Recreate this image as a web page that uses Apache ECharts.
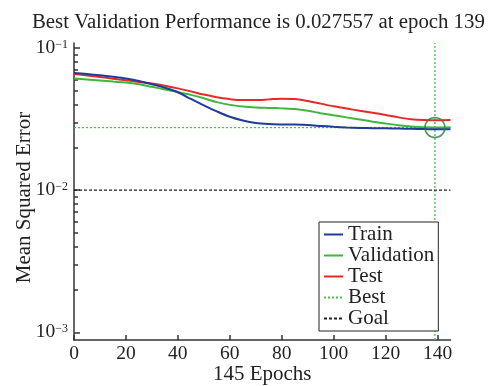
<!DOCTYPE html>
<html>
<head>
<meta charset="utf-8">
<script src="https://cdn.jsdelivr.net/npm/echarts@6/dist/echarts.min.js"></script>
<style>
  html, body { margin: 0; padding: 0; background: #fff; }
  #chart { width: 494px; height: 386px; }
</style>
</head>
<body>
<div id="chart"></div>
<script>
// Training record of the network (mean squared error per epoch)
const epochs = [0, 5, 10, 15, 20, 25, 30, 35, 40, 45, 50, 55, 60, 65, 70, 75, 80, 85, 90, 95, 100, 105, 110, 115, 120, 125, 130, 135, 139, 145];
const trainErr = [0.0667, 0.0655, 0.0642, 0.0627, 0.0610, 0.0585, 0.0556, 0.0525, 0.0488, 0.0438, 0.0395, 0.0358, 0.0328, 0.0309, 0.0297, 0.0292, 0.0290, 0.0289, 0.0287, 0.0283, 0.0279, 0.0276, 0.0274, 0.0273, 0.0272, 0.0271, 0.0270, 0.0269, 0.0268, 0.0268];
const validationErr = [0.0610, 0.0600, 0.0590, 0.0580, 0.0571, 0.0555, 0.0533, 0.0511, 0.0490, 0.0468, 0.0443, 0.0416, 0.0398, 0.0388, 0.0382, 0.0379, 0.0376, 0.0372, 0.0362, 0.0348, 0.0336, 0.0325, 0.0314, 0.0303, 0.0294, 0.0286, 0.0280, 0.0277, 0.027557, 0.0277];
const testErr = [0.0657, 0.0640, 0.0625, 0.0608, 0.0593, 0.0577, 0.0562, 0.0543, 0.0520, 0.0495, 0.0470, 0.0450, 0.0437, 0.0430, 0.0430, 0.0435, 0.0440, 0.0438, 0.0424, 0.0406, 0.0389, 0.0375, 0.0362, 0.0350, 0.0338, 0.0325, 0.0315, 0.0311, 0.0310, 0.0311];

const bestEpoch = 139;
const bestPerf = 0.027557;
const goalErr = 0.01;
const totalEpochs = 145;

const xTicks = [0, 20, 40, 60, 80, 100, 120, 140];
const yDecades = [0.001, 0.01, 0.1];
const yMinorTicks = [0.002, 0.003, 0.004, 0.005, 0.006, 0.007, 0.008, 0.009,
                     0.02, 0.03, 0.04, 0.05, 0.06, 0.07, 0.08, 0.09];
// full vertical range of the axes box (slightly beyond the decades)
const yLow = 0.000883;
const yHigh = 0.1084;

const FONT = 'Liberation Serif';
const INK = '#222';
const pair = (xs, ys) => xs.map((x, i) => [x, ys[i]]);

const chart = echarts.init(document.getElementById('chart'), null, { renderer: 'canvas' });

const lineSeries = (name, ys, color, z) => ({
  name, type: 'line', data: pair(epochs, ys),
  showSymbol: false, symbol: 'none', smooth: 0.3,
  lineStyle: { color, width: 2 }, itemStyle: { color }, z
});

chart.setOption({
  animation: false,
  backgroundColor: '#fff',
  title: {
    text: 'Best Validation Performance is ' + bestPerf + ' at epoch ' + bestEpoch,
    left: 32,
    top: 12,
    padding: 0,
    textStyle: { fontFamily: FONT, fontSize: 20.8, fontWeight: 'normal', color: INK }
  },
  legend: {
    orient: 'vertical',
    left: 319,
    top: 222,
    padding: [2, 4, 2, 4],
    itemWidth: 19,
    itemHeight: 12,
    itemGap: 0,
    backgroundColor: '#fff',
    borderColor: INK,
    borderWidth: 1,
    borderRadius: 0,
    itemStyle: { opacity: 0, borderWidth: 0 },
    textStyle: { fontFamily: FONT, fontSize: 21, color: INK, lineHeight: 19.2 },
    data: ['Train', 'Validation', 'Test', 'Best', 'Goal']
  },
  grid: { left: 74, right: 43.5, top: 43, bottom: 46, outerBoundsMode: 'none', containLabel: false },
  xAxis: {
    type: 'value', min: 0, max: totalEpochs,
    name: totalEpochs + ' Epochs', nameLocation: 'middle', nameGap: 24, nameMoveOverlap: false,
    nameTextStyle: { fontFamily: FONT, fontSize: 21, color: INK },
    axisLine: { show: true, lineStyle: { color: '#333', width: 1.5 } },
    axisTick: { show: true, inside: true, length: 5, customValues: xTicks, lineStyle: { color: '#333', width: 1.5 } },
    axisLabel: { show: true, customValues: xTicks, margin: 4, fontFamily: FONT, fontSize: 19.5, color: INK },
    splitLine: { show: false }
  },
  yAxis: [
    {
      // axis line and the 2..9 sub-decade ticks
      type: 'log', logBase: 10, min: yLow, max: yHigh, position: 'left', offset: 0,
      axisLine: { show: true, lineStyle: { color: '#333', width: 1.5 } },
      axisTick: { show: true, inside: true, length: 4, customValues: yMinorTicks, lineStyle: { color: '#333', width: 1.5 } },
      axisLabel: { show: false },
      splitLine: { show: false }
    },
    {
      // decade ticks with 10^n labels
      type: 'log', logBase: 10, min: yLow, max: yHigh, position: 'left', offset: 0,
      name: 'Mean Squared Error', nameLocation: 'middle', nameGap: 39, nameMoveOverlap: false,
      nameTextStyle: { fontFamily: FONT, fontSize: 21, color: INK, padding: [0, 12, 0, 0] },
      axisLine: { show: false },
      axisTick: { show: true, inside: true, length: 6, customValues: yDecades, lineStyle: { color: '#333', width: 1.5 } },
      axisLabel: {
        show: true, margin: 6, customValues: yDecades,
        formatter: v => '{b|10}{e|' + String(Math.round(Math.log10(v))).replace('-', '\u2212') + '}',
        rich: {
          b: { fontFamily: FONT, fontSize: 19.5, color: INK, lineHeight: 19 },
          e: { fontFamily: FONT, fontSize: 12, color: INK, verticalAlign: 'top', lineHeight: 12 }
        }
      },
      splitLine: { show: false }
    }
  ],
  series: [
    lineSeries('Train', trainErr, '#1f3d96', 4),
    lineSeries('Validation', validationErr, '#3db83d', 3),
    lineSeries('Test', testErr, '#e62a2a', 3),
    {
      name: 'Best', type: 'line', data: [[0, bestPerf], [totalEpochs, bestPerf]],
      showSymbol: false, symbol: 'none',
      lineStyle: { color: '#3ec83e', width: 1.3, type: [2, 2] }, itemStyle: { color: '#3ec83e' }, z: 2
    },
    {
      name: 'Best', type: 'line', data: [[bestEpoch, yLow], [bestEpoch, yHigh]],
      showSymbol: false, symbol: 'none',
      lineStyle: { color: '#3ec83e', width: 1.3, type: [2, 2] }, itemStyle: { color: '#3ec83e' }, z: 2
    },
    {
      name: 'Goal', type: 'line', data: [[0, goalErr], [totalEpochs, goalErr]],
      showSymbol: false, symbol: 'none',
      lineStyle: { color: INK, width: 1.2, type: [3, 2] }, itemStyle: { color: INK }, z: 2
    },
    {
      name: 'Best point', type: 'scatter', data: [[bestEpoch, bestPerf]],
      symbol: 'circle', symbolSize: 20,
      itemStyle: { color: 'rgba(0,0,0,0)', borderColor: '#2b7a45', borderWidth: 1.6 }, z: 5
    }
  ]
});
</script>
</body>
</html>
